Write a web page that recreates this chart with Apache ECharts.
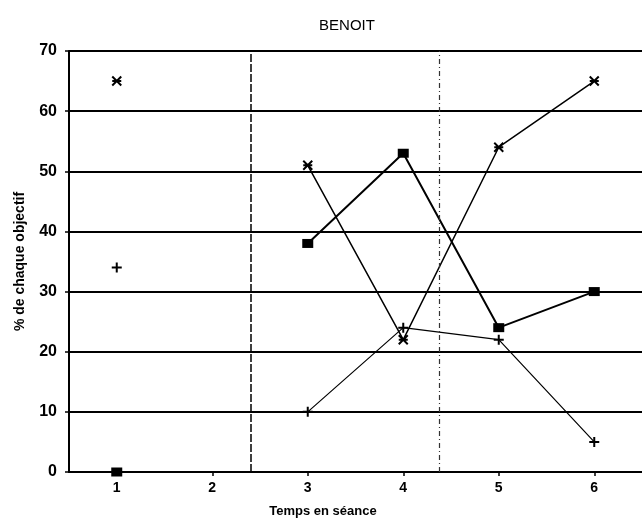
<!DOCTYPE html>
<html>
<head>
<meta charset="utf-8">
<script src="https://cdn.jsdelivr.net/npm/echarts@6/dist/echarts.min.js"></script>
<style>
  html, body { margin: 0; padding: 0; background: #fff; }
  #main { width: 642px; height: 522px; }
</style>
</head>
<body>
<div id="main"></div>
<script>
// seances (axe x)
var seances = [1, 2, 3, 4, 5, 6];
// les trois objectifs, null = pas de mesure
var carres = [0, null, 38, 53, 24, 30];
var etoiles = [65, null, 51, 22, 54, 65];
var croix = [34, null, 10, 24, 22, 5];
// coupures entre les phases
var coupures = [2.4, 4.38];

var chart = echarts.init(document.getElementById('main'), null, { renderer: 'canvas' });

function pts(arr) {
  var out = [];
  for (var i in seances) {
    out.push([seances[i], arr[i]]);
  }
  return out;
}

var font = '"Liberation Sans", Arial, sans-serif';

var option = {
  backgroundColor: '#fff',
  animation: false,
  title: [
    {
      text: 'BENOIT',
      left: 342,
      top: 13,
      textAlign: 'center',
      textStyle: { fontFamily: font, fontSize: 15, fontWeight: 'normal', color: '#000' }
    },
    {
      text: 'Temps en séance',
      left: 318,
      top: 500,
      textAlign: 'center',
      textStyle: { fontFamily: font, fontSize: 13, fontWeight: 'bold', color: '#000' }
    }
  ],
  grid: {
    left: 69,
    right: -12,
    top: 51,
    bottom: 50
  },
  xAxis: {
    type: 'value',
    min: 0.5,
    max: 6.5,
    splitLine: { show: false },
    axisLine: { lineStyle: { color: '#000', width: 2 } },
    axisTick: {
      show: true,
      customValues: seances,
      length: 4,
      lineStyle: { color: '#000', width: 1.5 }
    },
    axisLabel: {
      customValues: seances,
      margin: 9,
      color: '#000',
      fontFamily: font,
      fontSize: 14,
      fontWeight: 'bold'
    }
  },
  yAxis: {
    type: 'value',
    min: 0,
    max: 70,
    interval: 10,
    name: '% de chaque objectif',
    nameLocation: 'middle',
    nameRotate: 90,
    nameGap: 42,
    nameTextStyle: { fontFamily: font, fontSize: 14, fontWeight: 'bold', color: '#000' },
    axisLine: { show: true, lineStyle: { color: '#000', width: 2 } },
    axisTick: { show: true, length: 4, lineStyle: { color: '#000', width: 1.5 } },
    splitLine: { show: true, lineStyle: { color: '#000', width: 2 } },
    axisLabel: {
      margin: 12,
      color: '#000',
      fontFamily: font,
      fontSize: 16,
      fontWeight: 'bold'
    }
  },
  series: [
    {
      name: 'carres',
      type: 'line',
      data: pts(carres),
      connectNulls: false,
      symbol: 'rect',
      symbolSize: [11, 9],
      itemStyle: { color: '#000' },
      lineStyle: { color: '#000', width: 2 },
      markLine: {
        silent: true,
        symbol: 'none',
        label: { show: false },
        data: [
          { xAxis: coupures[0], lineStyle: { color: '#000', width: 1.5, type: [8, 2] } },
          { xAxis: coupures[1], lineStyle: { color: '#333', width: 1.2, type: [5, 3, 1, 3] } }
        ]
      },
      z: 3
    },
    {
      name: 'etoiles',
      type: 'line',
      data: pts(etoiles),
      connectNulls: false,
      symbol: 'path://M0,0L10,10M10,0L0,10M0,5L10,5',
      symbolSize: 9,
      itemStyle: { color: 'none', borderColor: '#000', borderWidth: 2 },
      lineStyle: { color: '#000', width: 1.5 },
      z: 2
    },
    {
      name: 'croix',
      type: 'line',
      data: pts(croix),
      connectNulls: false,
      symbol: 'path://M5,0L5,10M0,5L10,5',
      symbolSize: 10,
      itemStyle: { color: 'none', borderColor: '#000', borderWidth: 2 },
      lineStyle: { color: '#000', width: 1.2 },
      z: 2
    }
  ]
};

chart.setOption(option);
</script>
</body>
</html>
